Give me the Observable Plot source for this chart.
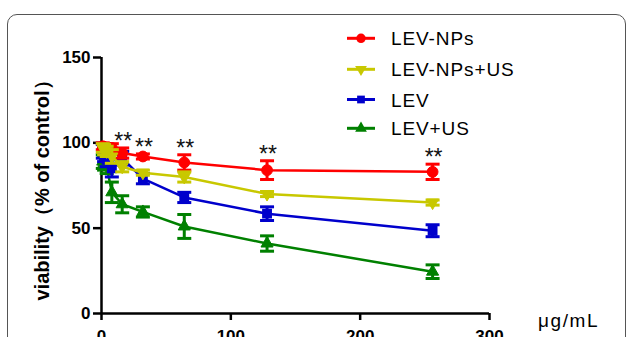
<!DOCTYPE html>
<html><head><meta charset="utf-8">
<script src="https://cdn.jsdelivr.net/npm/d3@7"></script>
<script src="https://cdn.jsdelivr.net/npm/@observablehq/plot@0.6"></script>
<style>
html,body{margin:0;padding:0;background:#fff;overflow:hidden;width:627px;height:337px}
#wrap{position:relative;width:627px;height:337px;overflow:hidden;background:#fff}
#chart,#overlay{position:absolute;left:0;top:0}
#frame{position:absolute;left:7px;top:14px;width:619px;height:420px;border:1.5px solid #555;border-radius:10px;box-sizing:border-box;pointer-events:none}
</style>
</head><body>
<div id="wrap"><div id="chart"></div><svg id="overlay" width="627" height="337"></svg><div id="frame"></div></div>
<script>
// ---- data ----
const doses = [1, 2, 4, 8, 16, 32, 64, 128, 256];
const seriesNames = ["LEV-NPs", "LEV-NPs+US", "LEV", "LEV+US"];
const levNPs     = [98, 97.5, 97, 97, 94, 92, 88.5, 84, 83];
const levNPsSd   = [2, 2, 2, 2.5, 3, 1.5, 4.5, 5.5, 4.5];
const levNPsUS   = [97, 96, 95, 92, 86, 82.5, 80, 70, 65];
const levNPsUSSd = [2.5, 3, 3, 4, 3, 1.5, 3, 1.5, 1.5];
const lev        = [95, 93, 90, 85, 91, 79, 68, 58.5, 48.5];
const levSd      = [4, 4, 4, 5, 4, 3, 3, 4, 3.5];
const levUS      = [89, 88, 86, 71, 64, 59.5, 51, 41, 24.5];
const levUSSd    = [4, 4, 4, 6, 5, 3, 7, 4.5, 4];
const yTicks = [0, 50, 100, 150];
const xTicks = [0, 100, 200, 300];
const sigDoses = [16, 32, 64, 128, 256];
const sigLabel = "**";
const yTitle = "viability（% of control）";
const unitLabel = "μg/mL";

// ---- styles ----
const colors = ["#ff0000", "#c8c800", "#0000cc", "#008000"];
const means = [levNPs, levNPsUS, lev, levUS];
const sds = [levNPsSd, levNPsUSSd, levSd, levUSSd];
const rows = [];
seriesNames.forEach((s, i) => doses.forEach((d, j) => rows.push({series: s, dose: d, mean: means[i][j], sd: sds[i][j]})));

const downTriangle = {draw(ctx, size) {
  const y = -Math.sqrt(size / (Math.sqrt(3) * 3));
  ctx.moveTo(0, -y * 2); ctx.lineTo(Math.sqrt(3) * y, y); ctx.lineTo(-Math.sqrt(3) * y, y); ctx.closePath();
}};
const cap = {draw(ctx, size) { ctx.moveTo(-7, 0); ctx.lineTo(7, 0); }};
const symbols = {"LEV-NPs": ["circle", 5.4], "LEV-NPs+US": [downTriangle, 4.5], "LEV": ["square", 3.3], "LEV+US": ["triangle", 4.5]};
const drawOrder = ["LEV+US", "LEV", "LEV-NPs", "LEV-NPs+US"];

const marks = [];
for (const s of drawOrder) {
  const data = rows.filter(r => r.series === s);
  const c = colors[seriesNames.indexOf(s)];
  marks.push(
    Plot.line(data, {x: "dose", y: "mean", stroke: c, strokeWidth: 2.5}),
    Plot.ruleX(data, {x: "dose", y1: d => d.mean - d.sd, y2: d => d.mean + d.sd, stroke: c, strokeWidth: 3}),
    Plot.dot(data, {x: "dose", y: d => d.mean + d.sd, symbol: cap, r: 3, fill: "none", stroke: c, strokeWidth: 3}),
    Plot.dot(data, {x: "dose", y: d => d.mean - d.sd, symbol: cap, r: 3, fill: "none", stroke: c, strokeWidth: 3}),
    Plot.dot(data, {x: "dose", y: "mean", symbol: symbols[s][0], r: symbols[s][1], fill: c, stroke: c, strokeWidth: s === "LEV" ? 4 : 1})
  );
}
const sigRows = rows.filter(r => r.series === "LEV-NPs" && sigDoses.includes(r.dose));
marks.push(Plot.text(sigRows, {x: "dose", y: d => d.mean + d.sd, text: () => sigLabel, lineAnchor: "bottom", dx: 1, dy: 1, fontSize: 23, fontWeight: "normal", fill: "#111"}));

const chart = Plot.plot({
  width: 627, height: 360,
  marginLeft: 101, marginRight: 138, marginTop: 57, marginBottom: 47,
  style: {fontFamily: "'Liberation Sans', Arial, sans-serif", fontSize: "17px", fontWeight: "bold", background: "transparent", color: "#000"},
  x: {domain: [0, 300], ticks: xTicks, label: null},
  y: {domain: [0, 150], ticks: yTicks, label: null},
  marks: [
    Plot.axisX({ticks: xTicks, tickSize: 7, tickPadding: 9, strokeWidth: 2.5, label: null, fontWeight: "bold"}),
    Plot.axisY({ticks: yTicks, tickSize: 8, tickPadding: 3, strokeWidth: 2.5, label: null, fontWeight: "bold"}),
    Plot.ruleX([0], {strokeWidth: 2.5}),
    Plot.ruleY([0], {strokeWidth: 2.5}),
    ...marks
  ]
});
document.getElementById("chart").appendChild(chart);

// ---- overlay: legend, titles ----
const ov = d3.select("#overlay").style("font-family", "'Liberation Sans', Arial, sans-serif");
ov.append("text").attr("transform", "translate(49,185.5) rotate(-90)").attr("text-anchor", "middle")
  .attr("font-size", 20).attr("font-weight", "bold").text(yTitle);
ov.append("text").attr("x", 538).attr("y", 327).attr("font-size", 19).attr("letter-spacing", 1.6).text(unitLabel);
const legendY = [38.3, 69.3, 99.5, 128.3];
const legendShapes = [d3.symbolCircle, "down", d3.symbolSquare, d3.symbolTriangle];
seriesNames.forEach((s, i) => {
  const g = ov.append("g").attr("transform", `translate(361,${legendY[i]})`);
  g.append("line").attr("x1", -14).attr("x2", 14).attr("stroke", colors[i]).attr("stroke-width", 3);
  const sh = legendShapes[i];
  if (sh === "down") {
    g.append("path").attr("d", d3.symbol(d3.symbolTriangle, 60)()).attr("transform", "rotate(180)").attr("fill", colors[i]);
  } else {
    g.append("path").attr("d", d3.symbol(sh, sh === d3.symbolCircle ? 70 : 60)()).attr("fill", colors[i]);
  }
  g.append("text").attr("x", 30).attr("y", 7).attr("font-size", 19).attr("letter-spacing", 0.9).text(s);
});
</script>
</body></html>
